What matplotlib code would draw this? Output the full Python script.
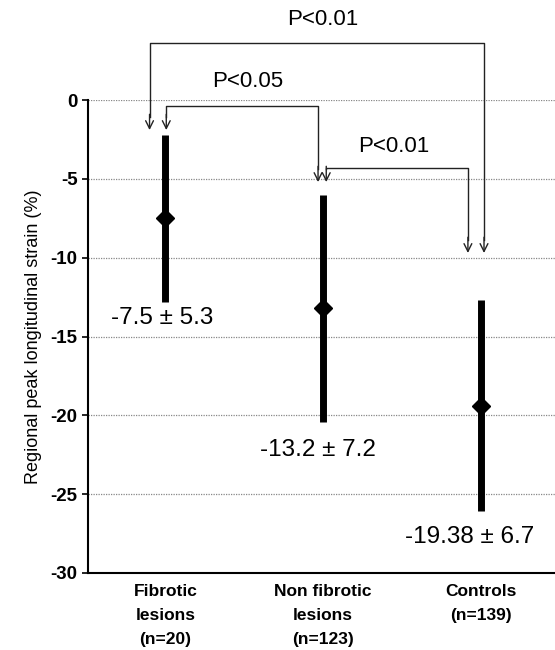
import matplotlib
matplotlib.use("Agg")
import matplotlib.pyplot as plt

# ---- data ----
groups = ["Fibrotic\nlesions\n(n=20)", "Non fibrotic\nlesions\n(n=123)", "Controls\n(n=139)"]
means = [-7.5, -13.2, -19.38]
sds = [5.3, 7.2, 6.7]
value_labels = ["-7.5 \u00b1 5.3", "-13.2 \u00b1 7.2", "-19.38 \u00b1 6.7"]
yticks = [0, -5, -10, -15, -20, -25, -30]
ylabel = "Regional peak longitudinal strain (%)"
comparisons = [(0, 1, "P<0.05"), (1, 2, "P<0.01"), (0, 2, "P<0.01")]

plt.rcParams['font.family'] = ['Liberation Sans', 'DejaVu Sans']

fig = plt.figure(figsize=(5.55, 6.5), dpi=100)
ax = fig.add_axes([0.1586, 0.1185, 0.8414, 0.7275])

xs = list(range(len(groups)))
for x, m, s in zip(xs, means, sds):
    ax.plot([x, x], [m - s, m + s], color='black', lw=5, solid_capstyle='butt', zorder=3)
    ax.plot([x], [m], marker='D', color='black', markersize=9, zorder=4)

# value labels (offsets relative to each group)
label_off = [(-0.02, -13.8), (-0.035, -22.2), (-0.07, -27.7)]
for x, (dx, ly), t in zip(xs, label_off, value_labels):
    ax.text(x + dx, ly, t, ha='center', va='center', fontsize=17.5)

ax.set_xlim(-0.49, 2.47)
ax.set_ylim(-30, 0)
ax.set_yticks(yticks)
ax.set_yticklabels([str(v) for v in yticks], fontsize=13.5, fontweight='bold')
ax.set_xticks(xs)
ax.set_xticklabels(groups, fontsize=12.5, fontweight='bold', linespacing=1.75)
ax.tick_params(axis='x', length=0, pad=8)
ax.tick_params(axis='y', length=4, width=1.2, direction='out')
ax.set_ylabel(ylabel, fontsize=13, labelpad=6)

ax.grid(axis='y', linestyle=(0, (1, 1)), color='#888888', lw=0.9, zorder=0)
for sp in ['top', 'right']:
    ax.spines[sp].set_visible(False)
for sp in ['left', 'bottom']:
    ax.spines[sp].set_linewidth(1.5)

# comparison brackets (layout geometry)
brackets = {
    (0, 1): dict(x1=0.006, x2=0.968, y=-0.38, t1=-1.9, t2=-5.2, tx=0.52, ty=1.15),
    (1, 2): dict(x1=1.02, x2=1.918, y=-4.3, t1=-5.2, t2=-9.7, tx=1.45, ty=-2.95),
    (0, 2): dict(x1=-0.10, x2=2.02, y=3.6, t1=-1.9, t2=-9.7, tx=1.0, ty=5.1),
}
for a, b, txt in comparisons:
    g = brackets[(a, b)]
    ax.plot([g['x1'], g['x1'], g['x2'], g['x2']], [g['t1'] + 0.8, g['y'], g['y'], g['t2'] + 0.8],
            color='#222222', lw=1.0, clip_on=False, zorder=5)
    for xx, tt in [(g['x1'], g['t1']), (g['x2'], g['t2'])]:
        ax.annotate('', xy=(xx, tt), xytext=(xx, tt + 1.0),
                    arrowprops=dict(arrowstyle='->', color='#222222', lw=1.0,
                                    mutation_scale=14, shrinkA=0, shrinkB=0),
                    annotation_clip=False, zorder=5)
    ax.text(g['tx'], g['ty'], txt, ha='center', va='center', fontsize=16, clip_on=False)

fig.savefig("out.png", dpi=100)
